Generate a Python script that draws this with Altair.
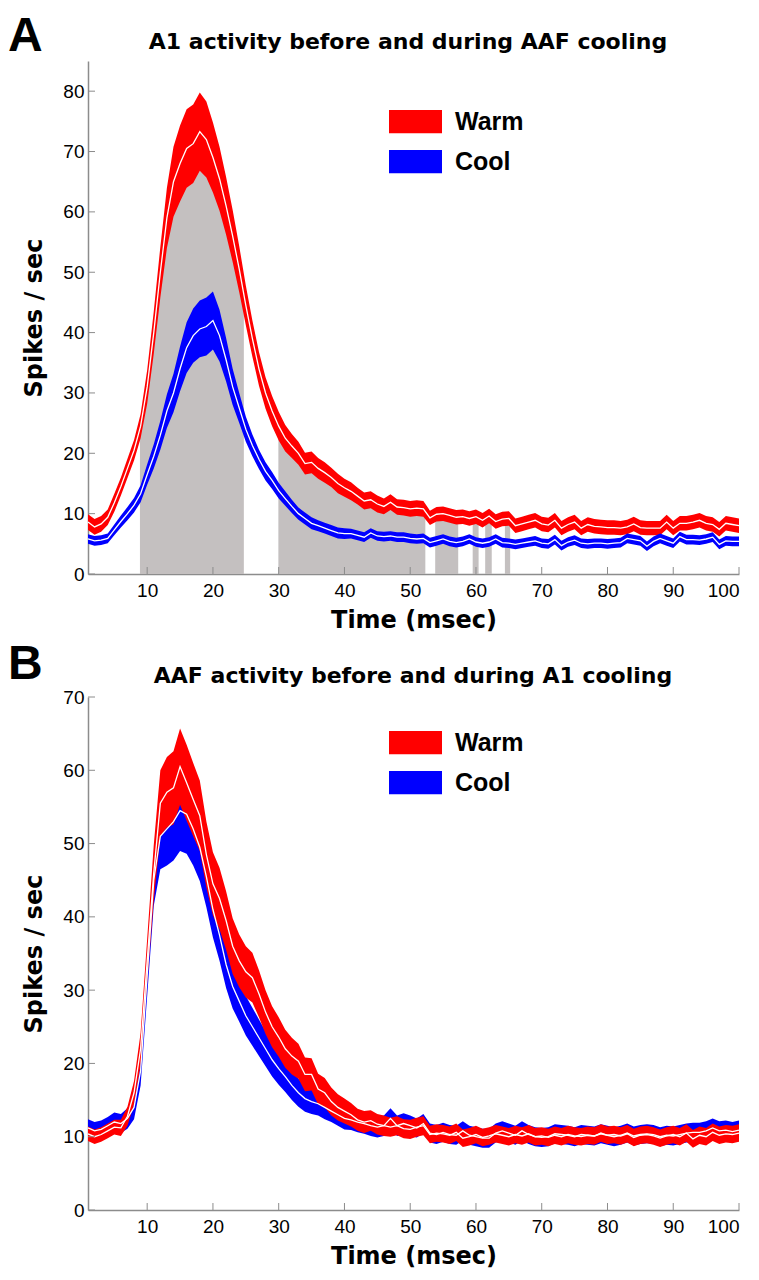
import altair as alt
import pandas as pd

TIME = list(range(1, 101))

# ---------------- Panel A (A1 activity, AAF cooling) ----------------
A_WARM_MEAN = [8.6, 7.8, 8.3, 9.4, 11.8, 14.5, 17.5, 20.5, 24.5, 31.0,
               40.0, 50.0, 59.0, 65.0, 68.0, 70.5, 71.3, 73.3, 72.0, 69.0,
               65.5, 61.0, 56.0, 50.5, 44.5, 39.0, 34.0, 30.0, 27.0, 24.5,
               22.5, 21.2, 20.0, 18.3, 18.5, 17.5, 16.8, 16.0, 15.0, 14.3,
               13.7, 12.9, 12.1, 12.3, 11.6, 11.2, 11.9, 11.1, 11.0, 10.8,
               10.9, 10.8, 9.3, 9.9, 10.0, 9.7, 9.4, 9.5, 9.2, 9.5,
               8.9, 9.6, 8.7, 9.1, 9.2, 8.0, 8.3, 8.6, 8.9, 8.3,
               8.1, 8.9, 7.6, 8.2, 8.6, 7.6, 8.2, 7.9, 7.8, 7.7,
               7.7, 7.6, 7.8, 8.3, 7.7, 7.6, 7.6, 7.6, 8.6, 7.6,
               8.4, 8.4, 8.6, 8.9, 8.4, 8.2, 7.4, 8.4, 8.2, 8.0]
A_WARM_SEM = [1.3, 1.3, 1.3, 1.3, 1.5, 1.5, 1.6, 1.7, 2.0, 2.8,
              3.5, 4.2, 5.0, 5.8, 6.3, 6.5, 6.5, 6.5, 6.3, 5.8,
              5.3, 4.8, 4.3, 3.8, 3.3, 3.0, 2.8, 2.6, 2.5, 2.4,
              2.2, 2.0, 1.9, 1.8, 1.8, 1.7, 1.7, 1.6, 1.6, 1.5,
              1.5, 1.4, 1.4, 1.4, 1.4, 1.3, 1.3, 1.3, 1.3, 1.3,
              1.3, 1.3, 1.2, 1.2, 1.2, 1.2, 1.2, 1.2, 1.2, 1.2,
              1.2, 1.2, 1.2, 1.2, 1.2, 1.2, 1.2, 1.2, 1.2, 1.2,
              1.2, 1.2, 1.2, 1.2, 1.2, 1.2, 1.2, 1.2, 1.2, 1.2,
              1.2, 1.2, 1.2, 1.2, 1.2, 1.2, 1.2, 1.2, 1.2, 1.2,
              1.2, 1.2, 1.2, 1.2, 1.2, 1.2, 1.2, 1.2, 1.2, 1.2]
A_COOL_MEAN = [5.8, 5.5, 5.6, 5.9, 7.3, 8.7, 10.0, 11.4, 13.3, 16.5,
               19.5, 23.0, 27.0, 30.0, 34.0, 37.5, 39.5, 40.6, 41.0, 42.0,
               39.5, 35.5, 31.0, 27.5, 24.0, 21.3, 19.0, 17.0, 15.5, 13.8,
               12.5, 11.2, 10.0, 9.2, 8.4, 8.0, 7.6, 7.2, 6.8, 6.7,
               6.7, 6.4, 6.1, 6.8, 6.3, 6.2, 6.3, 6.1, 6.1, 5.9,
               5.8, 5.9, 5.2, 5.5, 5.8, 5.4, 5.2, 5.4, 5.8, 5.3,
               5.1, 5.3, 5.8, 5.2, 5.1, 4.9, 5.1, 5.3, 5.5, 5.1,
               5.0, 5.7, 4.7, 5.3, 5.6, 5.1, 5.0, 5.1, 5.1, 5.0,
               5.1, 5.2, 5.9, 5.7, 5.5, 4.6, 5.4, 5.9, 5.5, 5.1,
               6.2, 5.7, 5.7, 5.6, 5.8, 6.1, 4.9, 5.5, 5.4, 5.4]
A_COOL_SEM = [0.8, 0.8, 0.8, 0.8, 0.9, 1.0, 1.1, 1.2, 1.4, 1.7,
              2.0, 2.4, 2.8, 3.2, 3.7, 4.2, 4.5, 4.7, 4.8, 4.8,
              4.3, 3.6, 3.0, 2.5, 2.1, 1.8, 1.6, 1.5, 1.4, 1.3,
              1.2, 1.1, 1.0, 1.0, 1.0, 0.9, 0.9, 0.9, 0.9, 0.9,
              0.8, 0.8, 0.8, 0.8, 0.8, 0.8, 0.8, 0.8, 0.8, 0.8,
              0.8, 0.8, 0.8, 0.8, 0.8, 0.8, 0.8, 0.8, 0.8, 0.8,
              0.8, 0.8, 0.8, 0.8, 0.8, 0.8, 0.8, 0.8, 0.8, 0.8,
              0.8, 0.8, 0.8, 0.8, 0.8, 0.8, 0.8, 0.8, 0.8, 0.8,
              0.8, 0.8, 0.8, 0.8, 0.8, 0.8, 0.8, 0.8, 0.8, 0.8,
              0.8, 0.8, 0.8, 0.8, 0.8, 0.8, 0.8, 0.8, 0.8, 0.8]
# significant-difference intervals (grey shading), msec
A_SIG_START = [8.9, 29.95, 53.8, 59.5, 61.4, 64.4]
A_SIG_END = [24.7, 52.3, 57.3, 60.4, 62.4, 65.2]

# ---------------- Panel B (AAF activity, A1 cooling) ----------------
B_WARM_MEAN = [10.4, 10.0, 10.3, 10.8, 11.3, 11.2, 12.8, 16.0, 22.0, 34.0,
               46.0, 55.5, 57.0, 57.6, 60.5, 58.3, 56.0, 53.8, 48.5, 44.5,
               42.5, 39.5, 36.0, 34.0, 32.5, 31.7, 29.5, 27.0, 25.0, 23.6,
               22.0, 21.0, 20.3, 18.5, 18.5, 16.5, 16.0, 14.8, 14.0, 13.5,
               13.0, 12.3, 12.0, 12.2, 11.7, 11.5, 11.3, 11.5, 11.1, 11.0,
               11.3, 11.5, 10.3, 10.5, 10.4, 10.2, 10.6, 9.8, 10.0, 10.3,
               9.9, 10.1, 10.4, 10.2, 10.0, 10.3, 10.1, 10.4, 10.0, 10.1,
               9.9, 10.2, 10.0, 10.3, 10.1, 10.0, 10.2, 10.1, 10.5, 10.2,
               10.3, 10.1, 10.4, 9.9, 10.2, 10.3, 10.1, 9.8, 10.1, 10.3,
               10.0, 10.5, 9.7, 10.2, 10.0, 10.6, 10.2, 10.4, 10.3, 10.5]
B_WARM_SEM = [1.0, 1.0, 1.0, 1.0, 1.0, 1.1, 1.3, 1.6, 2.2, 3.0,
              3.8, 4.5, 4.8, 5.0, 5.2, 5.2, 5.0, 4.8, 4.5, 4.3,
              4.2, 4.0, 3.8, 3.6, 3.5, 3.4, 3.2, 3.0, 2.8, 2.7,
              2.6, 2.5, 2.4, 2.3, 2.2, 2.1, 2.0, 1.9, 1.8, 1.7,
              1.6, 1.5, 1.5, 1.4, 1.4, 1.4, 1.3, 1.3, 1.3, 1.3,
              1.3, 1.3, 1.2, 1.2, 1.2, 1.2, 1.2, 1.2, 1.2, 1.2,
              1.2, 1.2, 1.2, 1.2, 1.2, 1.2, 1.2, 1.2, 1.2, 1.2,
              1.2, 1.2, 1.2, 1.2, 1.2, 1.2, 1.2, 1.2, 1.2, 1.2,
              1.2, 1.2, 1.2, 1.2, 1.2, 1.2, 1.2, 1.2, 1.2, 1.2,
              1.2, 1.2, 1.2, 1.2, 1.2, 1.2, 1.2, 1.2, 1.2, 1.2]
B_COOL_MEAN = [11.2, 10.8, 11.0, 11.5, 12.0, 11.8, 12.5, 14.0, 19.0, 32.0,
               45.0, 51.0, 52.0, 53.0, 54.5, 54.0, 52.0, 49.5, 45.5, 41.0,
               37.5, 33.5, 30.5, 28.5, 26.5, 25.0, 23.5, 22.0, 20.5, 19.3,
               18.2, 17.0, 16.0, 15.2, 14.8, 14.5, 14.0, 13.5, 13.0, 12.5,
               12.3, 12.0, 11.8, 11.5, 11.3, 11.5, 12.5, 11.5, 11.8, 11.5,
               11.2, 11.8, 10.5, 10.3, 10.6, 10.3, 10.2, 10.8, 10.2, 10.0,
               9.8, 9.8, 10.5, 10.8, 10.5, 10.2, 10.8, 10.3, 10.0, 9.9,
               10.0, 10.4, 10.3, 10.2, 10.0, 10.3, 10.2, 10.1, 10.4, 10.2,
               10.0, 10.2, 10.5, 10.1, 10.3, 10.4, 10.3, 10.0, 10.2, 10.1,
               10.3, 10.5, 10.6, 10.6, 10.8, 11.2, 10.8, 10.9, 10.7, 10.9]
B_COOL_SEM = [1.2, 1.2, 1.2, 1.2, 1.3, 1.3, 1.4, 1.6, 2.0, 2.8,
              3.5, 4.5, 5.0, 5.3, 5.5, 5.4, 5.0, 4.6, 4.2, 3.8,
              3.5, 3.2, 3.0, 2.8, 2.7, 2.6, 2.5, 2.4, 2.3, 2.2,
              2.1, 2.0, 1.9, 1.8, 1.7, 1.6, 1.6, 1.5, 1.5, 1.5,
              1.4, 1.4, 1.4, 1.4, 1.4, 1.4, 1.4, 1.4, 1.4, 1.4,
              1.3, 1.3, 1.3, 1.3, 1.3, 1.3, 1.3, 1.3, 1.3, 1.3,
              1.3, 1.3, 1.3, 1.3, 1.3, 1.3, 1.3, 1.3, 1.3, 1.3,
              1.3, 1.3, 1.3, 1.3, 1.3, 1.3, 1.3, 1.3, 1.3, 1.3,
              1.3, 1.3, 1.3, 1.3, 1.3, 1.3, 1.3, 1.3, 1.3, 1.3,
              1.3, 1.3, 1.3, 1.3, 1.3, 1.3, 1.3, 1.3, 1.3, 1.3]

X_TICKS = [10, 20, 30, 40, 50, 60, 70, 80, 90, 100]
A_Y_TICKS = [0, 10, 20, 30, 40, 50, 60, 70, 80]
B_Y_TICKS = [0, 10, 20, 30, 40, 50, 60, 70]
CONDS = ["Warm", "Cool"]

RED, BLUE, GREY, AXC = "#ff0000", "#0000ff", "#c4c0c0", "#8c8c8c"
W, H = 651, 513
TICK_FONT = "Liberation Sans"
BOLD_FONT = "DejaVu Sans"


def panel(letter, letter_y, title, title_x, title_y, wm, ws, cm, cs, ymax,
          yticks, legend_y, cool_on_top, sig_start=None, sig_end=None):
    rows = []
    for cond, m, s in [("Warm", wm, ws), ("Cool", cm, cs)]:
        for t, mv, sv in zip(TIME, m, s):
            rows.append({"t": t, "cond": cond, "mean": mv,
                         "lo": mv - sv, "hi": mv + sv})
    df = pd.DataFrame(rows)

    xscale = alt.Scale(domain=[1, 100], nice=False)
    yscale = alt.Scale(domain=[0, ymax], nice=False)
    xaxis = alt.Axis(values=X_TICKS, title="Time (msec)", labelPadding=7,
                     titlePadding=8)
    yaxis = alt.Axis(values=yticks, title="Spikes / sec", labelPadding=4,
                     titlePadding=16)

    def X(field="t"):
        return alt.X(f"{field}:Q", scale=xscale, axis=xaxis)

    def Y(field):
        return alt.Y(f"{field}:Q", scale=yscale, axis=yaxis)

    color = alt.Color(
        "cond:N",
        scale=alt.Scale(domain=CONDS, range=[RED, BLUE]),
        legend=alt.Legend(
            title=None, orient="none", legendX=301, legendY=legend_y,
            padding=0, symbolType="M-1,-0.44H1V0.44H-1Z", symbolSize=2809,
            symbolStrokeWidth=0, symbolOpacity=1, clipHeight=23,
            rowPadding=14, labelOffset=13, labelFont="Liberation Sans",
            labelFontSize=25, labelFontWeight="bold", labelColor="black",
        ),
    )

    layers = []
    if sig_start is not None:
        grey_rows = []
        for r, (a, b) in enumerate(zip(sig_start, sig_end)):
            pts = [a] + [t for t in TIME if a < t < b] + [b]
            for p in pts:
                grey_rows.append({"t": p, "r": r,
                                  "mean": wm[int(round(p)) - 1]})
        layers.append(
            alt.Chart(pd.DataFrame(grey_rows)).mark_area(color=GREY, opacity=1)
            .encode(x=X(), y=Y("mean"), y2=alt.datum(0), detail="r:N")
        )

    order = ["Warm", "Cool"] if cool_on_top else ["Cool", "Warm"]
    for c in order:
        layers.append(
            alt.Chart(df).transform_filter(alt.datum.cond == c)
            .mark_area(opacity=1)
            .encode(x=X(), y=Y("lo"), y2="hi:Q", color=color)
        )
    for c in order:
        layers.append(
            alt.Chart(df).transform_filter(alt.datum.cond == c)
            .mark_line(color="white", strokeWidth=1.3)
            .encode(x=X(), y=Y("mean"))
        )

    # inward tick marks
    layers.append(
        alt.Chart(pd.DataFrame({"t": X_TICKS})).mark_rule(color=AXC, strokeWidth=1)
        .encode(x=X(), y=alt.value(H), y2=alt.value(H - 7))
    )
    layers.append(
        alt.Chart(pd.DataFrame({"mean": yticks})).mark_rule(color=AXC, strokeWidth=1)
        .encode(y=Y("mean"), x=alt.value(0), x2=alt.value(7))
    )

    # panel letter and panel heading
    layers.append(
        alt.Chart(pd.DataFrame({"s": [letter]}))
        .mark_text(font="Liberation Sans", fontSize=48, fontWeight="bold",
                   align="left", baseline="alphabetic", color="black")
        .encode(text="s:N", x=alt.value(-80), y=alt.value(letter_y))
    )
    layers.append(
        alt.Chart(pd.DataFrame({"s": [title]}))
        .mark_text(font=BOLD_FONT, fontSize=22, fontWeight="bold",
                   align="center", baseline="alphabetic", color="black")
        .encode(text="s:N", x=alt.value(title_x), y=alt.value(title_y))
    )

    return alt.layer(*layers).properties(width=W, height=H)


pa = panel("A", -10, "A1 activity before and during AAF cooling", 320, -12,
           A_WARM_MEAN, A_WARM_SEM, A_COOL_MEAN, A_COOL_SEM, 85, A_Y_TICKS,
           49, True, A_SIG_START, A_SIG_END)
pb = panel("B", -18, "AAF activity before and during A1 cooling", 325, -14,
           B_WARM_MEAN, B_WARM_SEM, B_COOL_MEAN, B_COOL_SEM, 70, B_Y_TICKS,
           34, False)

chart = (
    alt.vconcat(pa, pb, spacing=9)
    .resolve_scale(color="independent", x="independent", y="independent")
    .resolve_legend(color="independent")
    .properties(padding={"top": 5, "left": 0, "right": 0, "bottom": 0},
                background="white")
    .configure_view(stroke=None)
    .configure_axis(
        grid=False, domainColor=AXC, domainWidth=1.5, tickSize=0,
        labelFont=TICK_FONT, labelFontSize=19, labelColor="black",
        titleFont=BOLD_FONT, titleFontSize=24, titleFontWeight="bold",
        titleColor="black", zindex=1,
    )
)

chart.save("out.html", embed_options={"renderer": "svg", "actions": False})
